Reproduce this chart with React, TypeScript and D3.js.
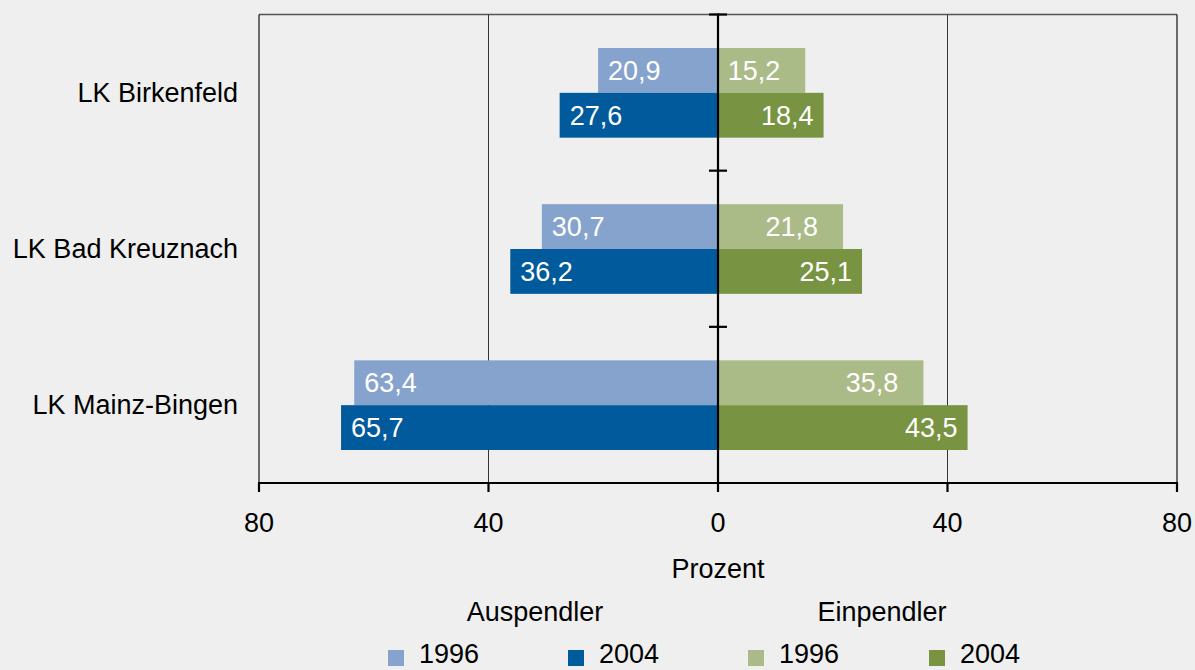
import React from "react";
import * as d3 from "d3";

const categories = ["LK Birkenfeld", "LK Bad Kreuznach", "LK Mainz-Bingen"];
const years = ["1996", "2004"];
const auspendler1996 = [20.9, 30.7, 63.4];
const auspendler2004 = [27.6, 36.2, 65.7];
const einpendler1996 = [15.2, 21.8, 35.8];
const einpendler2004 = [18.4, 25.1, 43.5];
const xTicks = [-80, -40, 0, 40, 80];
const groupLabels = ["Auspendler", "Einpendler"];
const colors = {
  aus1996: "#86a3cd",
  aus2004: "#005a9c",
  ein1996: "#abbb88",
  ein2004: "#789442",
};

const W = 1195;
const H = 670;
const FONT = "Arial, 'Liberation Sans', Helvetica, sans-serif";

export default function App() {
  const x = d3.scaleLinear().domain([-80, 80]).range([259, 1177]);
  const y = d3.scaleBand<string>().domain(categories).range([14.5, 483]).padding(0);
  const sub = d3
    .scaleBand<string>()
    .domain(years)
    .range([33.5, y.bandwidth() - 33])
    .padding(0);
  const fmt = (v: number) => d3.format(".1f")(v).replace(".", ",");

  const bars: any[] = [];
  categories.forEach((c, i) => {
    const series = [
      { side: "aus", year: "1996", v: auspendler1996[i], color: colors.aus1996 },
      { side: "aus", year: "2004", v: auspendler2004[i], color: colors.aus2004 },
      { side: "ein", year: "1996", v: einpendler1996[i], color: colors.ein1996 },
      { side: "ein", year: "2004", v: einpendler2004[i], color: colors.ein2004 },
    ];
    series.forEach((s) => {
      const y0 = (y(c) as number) + (sub(s.year) as number);
      const h = sub.bandwidth();
      const xa = s.side === "aus" ? x(-s.v) : x(0);
      const xb = s.side === "aus" ? x(0) : x(s.v);
      bars.push({ ...s, cat: c, x: xa, w: xb - xa, y: y0, h });
    });
  });

  const zeroX = x(0);
  const bottomY = 483;
  const topY = 14.5;

  const legendItems = [
    { label: "1996", color: colors.aus1996, x: 388 },
    { label: "2004", color: colors.aus2004, x: 568 },
    { label: "1996", color: colors.ein1996, x: 748 },
    { label: "2004", color: colors.ein2004, x: 929 },
  ];

  return (
    <div style={{ position: "absolute", left: 0, top: 0 }}>
      <svg width={W} height={H} style={{ display: "block", fontFamily: FONT }}>
        <rect x={0} y={0} width={W} height={H} fill="#eeefee" />
        {/* frame */}
        <line x1={x(-80)} x2={x(80)} y1={topY} y2={topY} stroke="#555" strokeWidth={1.5} />
        <line x1={x(-80)} x2={x(-80)} y1={topY} y2={bottomY} stroke="#111" strokeWidth={1.2} />
        <line x1={x(80)} x2={x(80)} y1={topY} y2={bottomY} stroke="#111" strokeWidth={1.2} />
        {/* grid */}
        {[-40, 40].map((t) => (
          <line key={t} x1={x(t)} x2={x(t)} y1={topY} y2={bottomY} stroke="#333" strokeWidth={1} />
        ))}
        {/* bars */}
        {bars.map((b, i) => (
          <rect key={i} x={b.x} y={b.y} width={b.w} height={b.h} fill={b.color} />
        ))}
        {/* value labels */}
        {bars.map((b, i) => {
          const isAus = b.side === "aus";
          const pad = isAus ? 10 : b.year === "1996" ? 25 : 10;
          const tx = isAus ? b.x + pad : b.x + b.w - pad;
          return (
            <text
              key={"l" + i}
              x={tx}
              y={b.y + b.h / 2 + 9.5}
              fill="#fff"
              fontSize={27}
              textAnchor={isAus ? "start" : "end"}
            >
              {fmt(b.v)}
            </text>
          );
        })}
        {/* zero axis */}
        <line x1={zeroX} x2={zeroX} y1={topY - 1} y2={bottomY} stroke="#000" strokeWidth={2.2} />
        {categories.map((c) => (
          <line key={c} x1={zeroX - 9} x2={zeroX + 9} y1={y(c) as number} y2={y(c) as number} stroke="#000" strokeWidth={2.2} />
        ))}
        {/* bottom axis */}
        <line x1={x(-80) - 1} x2={x(80) + 1} y1={bottomY} y2={bottomY} stroke="#000" strokeWidth={2.2} />
        {xTicks.map((t) => (
          <g key={t}>
            <line x1={x(t)} x2={x(t)} y1={bottomY} y2={bottomY + 9} stroke="#000" strokeWidth={2.2} />
            <text x={x(t)} y={532} fontSize={27} textAnchor="middle" fill="#000">
              {Math.abs(t)}
            </text>
          </g>
        ))}
        {/* category labels */}
        {categories.map((c) => (
          <text
            key={c}
            x={238}
            y={(y(c) as number) + y.bandwidth() / 2 + 9.5}
            fontSize={27}
            textAnchor="end"
            fill="#000"
          >
            {c}
          </text>
        ))}
        <text x={zeroX} y={578} fontSize={27} textAnchor="middle" fill="#000">
          Prozent
        </text>
        <text x={535} y={621} fontSize={27} textAnchor="middle" fill="#000">
          {groupLabels[0]}
        </text>
        <text x={882} y={621} fontSize={27} textAnchor="middle" fill="#000">
          {groupLabels[1]}
        </text>
        {legendItems.map((l, i) => (
          <g key={i}>
            <rect x={l.x} y={650} width={16} height={16} fill={l.color} />
            <text x={l.x + 31} y={663} fontSize={27} fill="#000">
              {l.label}
            </text>
          </g>
        ))}
      </svg>
    </div>
  );
}
